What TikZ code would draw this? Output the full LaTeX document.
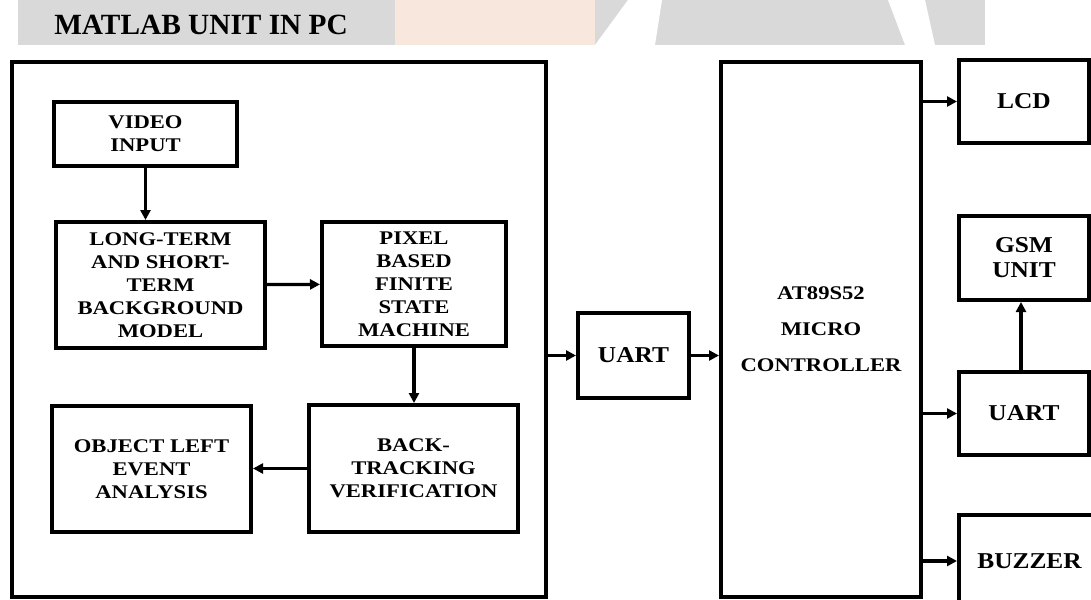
\documentclass[tikz,border=0pt]{standalone}
\usepackage{fontspec}
\setmainfont{Liberation Serif}
\newfontfamily\boxfont[FakeStretch=1.17]{Liberation Serif}
\newfontfamily\unitfont[FakeStretch=1.12]{Liberation Serif}
\usetikzlibrary{arrows.meta,calc}
\definecolor{bandgray}{RGB}{217,217,217}
\definecolor{bandorange}{RGB}{248,231,220}

\begin{document}
\begin{tikzpicture}[x=0.75pt,y=-0.75pt,
    boxsize/.style 2 args={minimum width=#1*0.75pt,minimum height=#2*0.75pt},
    blockbox/.style={draw,line width=3pt,inner sep=0pt,align=center,
        font=\boxfont\bfseries\fontsize{14.5}{17.3}\selectfont},
    unitbox/.style={blockbox,font=\unitfont\bfseries\fontsize{17}{18.8}\selectfont},
    flow/.style={line width=2.4pt,-{Triangle[length=7.5pt,width=7.5pt]}}]
    \useasboundingbox (0,0) rectangle (1091,599);
    \clip (0,0) rectangle (1091,599);

    % Watermark band behind the title
    \fill[bandgray] (18,0) rectangle (985,45);
    \fill[bandorange] (395,0) rectangle (595,45);
    \fill[white] (595,45) -- (628,0) -- (662,0) -- (655,45) -- cycle;
    \fill[white] (888,0) -- (925,0) -- (935,45) -- (905,45) -- cycle;

    \node[anchor=west,inner sep=0pt,font=\bfseries\fontsize{22}{26}\selectfont] (title) at (54,25) {MATLAB UNIT IN PC};

    % MATLAB unit
    \node[blockbox,boxsize={534}{535}] (pc) at (279,329.5) {};
    \node[blockbox,boxsize={183}{64}] (video) at (145.5,134) {VIDEO\\INPUT};
    \node[blockbox,boxsize={209}{126}] (model) at (160.5,285) {LONG-TERM\\AND SHORT-\\TERM\\BACKGROUND\\MODEL};
    \node[blockbox,boxsize={184}{124}] (fsm) at (414,284) {PIXEL\\BASED\\FINITE\\STATE\\MACHINE};
    \node[blockbox,boxsize={209}{127}] (track) at (413.5,468.5) {BACK-\\TRACKING\\VERIFICATION};
    \node[blockbox,boxsize={199}{126}] (object) at (151.5,469) {OBJECT LEFT\\EVENT\\ANALYSIS};

    % Hardware side
    \node[unitbox,boxsize={111}{85}] (uartpc) at (633.5,355.5) {UART};
    \node[blockbox,boxsize={200}{535}] (mcu) at (821,329.5) {AT89S52\\[9.7pt]MICRO\\[9.7pt]CONTROLLER};
    \node[unitbox,boxsize={130}{83}] (lcd) at (1024,101.5) {LCD};
    \node[unitbox,boxsize={130}{84}] (gsm) at (1024,258) {GSM\\UNIT};
    \node[unitbox,boxsize={130}{83}] (uartgsm) at (1024,413.5) {UART};
    \node[unitbox,boxsize={141}{92}] (buzzer) at (1029.5,561) {BUZZER};
    \coordinate (gsmtap) at ($(uartgsm.north)+(-3,0)$);

    % Connections
    \draw[flow] (video.south) -- (video.south |- model.north);
    \draw[flow] (model) -- (fsm);
    \draw[flow] (fsm.south) -- (fsm.south |- track.north);
    \draw[flow] (track.west) -- (track.west -| object.east);
    \draw[flow] (uartpc.west -| pc.east) -- (uartpc.west);
    \draw[flow] (uartpc.east) -- (uartpc.east -| mcu.west);
    \draw[flow] (lcd.west -| mcu.east) -- (lcd.west);
    \draw[flow] (uartgsm.west -| mcu.east) -- (uartgsm.west);
    \draw[flow] (buzzer.west -| mcu.east) -- (buzzer.west);
    \draw[flow] (gsmtap) -- (gsmtap |- gsm.south);
\end{tikzpicture}
\end{document}
